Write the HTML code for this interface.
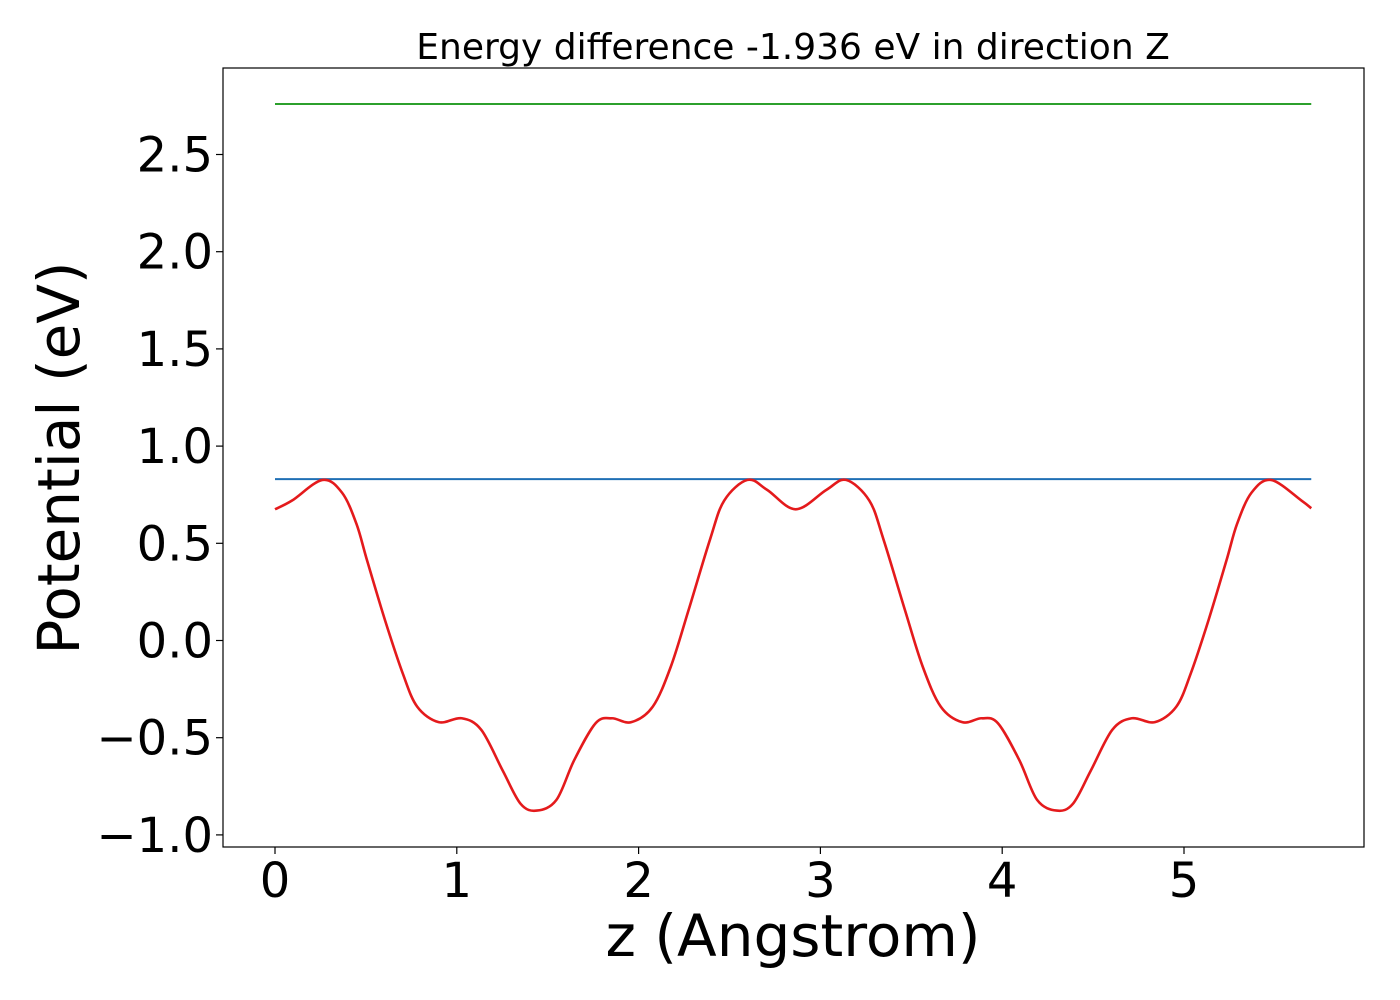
<!DOCTYPE html>
<html><head><meta charset="utf-8"><style>
body{margin:0;background:#fff;}
svg{display:block;font-family:"DejaVu Sans","Liberation Sans",sans-serif;}
</style></head><body>
<svg id="chart" width="1400" height="1000">
<rect width="1400" height="1000" fill="#fff"/>
<text x="793" y="59" text-anchor="middle" font-size="36">Energy difference -1.936 eV in direction Z</text>
<rect x="223" y="68" width="1141" height="779" fill="none" stroke="#000" stroke-width="1.2"/>
<g id="xt"></g>
<g id="yt"></g>
<g id="series"></g>
<text x="793" y="956" text-anchor="middle" font-size="58">z (Angstrom)</text>
<text transform="translate(79,458) rotate(-90)" text-anchor="middle" font-size="58">Potential (eV)</text>
</svg>
<script>
const xTicks=[0,1,2,3,4,5];
const yTicks=[-1.0,-0.5,0.0,0.5,1.0,1.5,2.0,2.5];
const yTickLabels=["−1.0","−0.5","0.0","0.5","1.0","1.5","2.0","2.5"];
const conductionLevel=2.76;
const valenceLevel=0.83;
const xMaxData=5.70;
const zVals=[0,0.094,0.261,0.369,0.448,0.507,0.605,0.703,0.782,0.90,1.027,1.135,1.253,1.351,1.44,1.548,1.646,1.764,1.853,1.96,2.078,2.177,2.275,2.393,2.471,2.599,2.707,2.864,3.033,3.141,3.269,3.347,3.465,3.563,3.662,3.78,3.887,3.976,4.094,4.192,4.30,4.389,4.487,4.605,4.713,4.84,4.958,5.037,5.135,5.233,5.292,5.371,5.479,5.646,5.70];
const potVals=[0.675,0.72,0.826,0.76,0.60,0.41,0.105,-0.17,-0.34,-0.42,-0.40,-0.46,-0.67,-0.84,-0.875,-0.82,-0.615,-0.425,-0.40,-0.42,-0.34,-0.135,0.157,0.52,0.72,0.826,0.775,0.675,0.775,0.826,0.72,0.52,0.157,-0.135,-0.34,-0.42,-0.40,-0.425,-0.615,-0.82,-0.875,-0.84,-0.67,-0.46,-0.40,-0.42,-0.34,-0.17,0.105,0.41,0.60,0.76,0.826,0.72,0.68];

const NS="http://www.w3.org/2000/svg";
const X=v=>275+v*181.8;
const Y=v=>640.5-v*194.4;
function mk(tag,attrs,parent){const e=document.createElementNS(NS,tag);for(const k in attrs)e.setAttribute(k,attrs[k]);parent.appendChild(e);return e;}
const xt=document.getElementById('xt'),yt=document.getElementById('yt'),sg=document.getElementById('series');
xTicks.forEach(t=>{
  const l=mk('line',{x1:X(t),x2:X(t),y1:847,y2:854,stroke:'#000','stroke-width':1.2},xt);
  
  
  const tx=mk('text',{x:X(t),y:897,'text-anchor':'middle','font-size':48},xt);
  tx.textContent=String(t);
  
  
});
yTicks.forEach((t,i)=>{
  const l=mk('line',{x1:216,x2:223,y1:Y(t),y2:Y(t),stroke:'#000','stroke-width':1.2},yt);
  
  
  const tx=mk('text',{x:213,y:Y(t)+17,'text-anchor':'end','font-size':48},yt);
  tx.textContent=yTickLabels[i];
  
  
});
const g=mk('line',{x1:X(0),x2:X(xMaxData),y1:Y(conductionLevel),y2:Y(conductionLevel),stroke:'#2ca02c','stroke-width':2},sg);


const b=mk('line',{x1:X(0),x2:X(xMaxData),y1:Y(valenceLevel),y2:Y(valenceLevel),stroke:'#1f6fb4','stroke-width':2},sg);


const P=zVals.map((z,i)=>[X(z),Y(potVals[i])]);
let d=`M${P[0][0]},${P[0][1]}`;
for(let i=0;i<P.length-1;i++){
  const p0=P[Math.max(0,i-1)],p1=P[i],p2=P[i+1],p3=P[Math.min(P.length-1,i+2)];
  const c1=[p1[0]+(p2[0]-p0[0])/6,p1[1]+(p2[1]-p0[1])/6];
  const c2=[p2[0]-(p3[0]-p1[0])/6,p2[1]-(p3[1]-p1[1])/6];
  d+=` C${c1[0]},${c1[1]} ${c2[0]},${c2[1]} ${p2[0]},${p2[1]}`;
}
const r=mk('path',{d:d,fill:'none',stroke:'#e41a1c','stroke-width':2.6},sg);


</script>
</body></html>
